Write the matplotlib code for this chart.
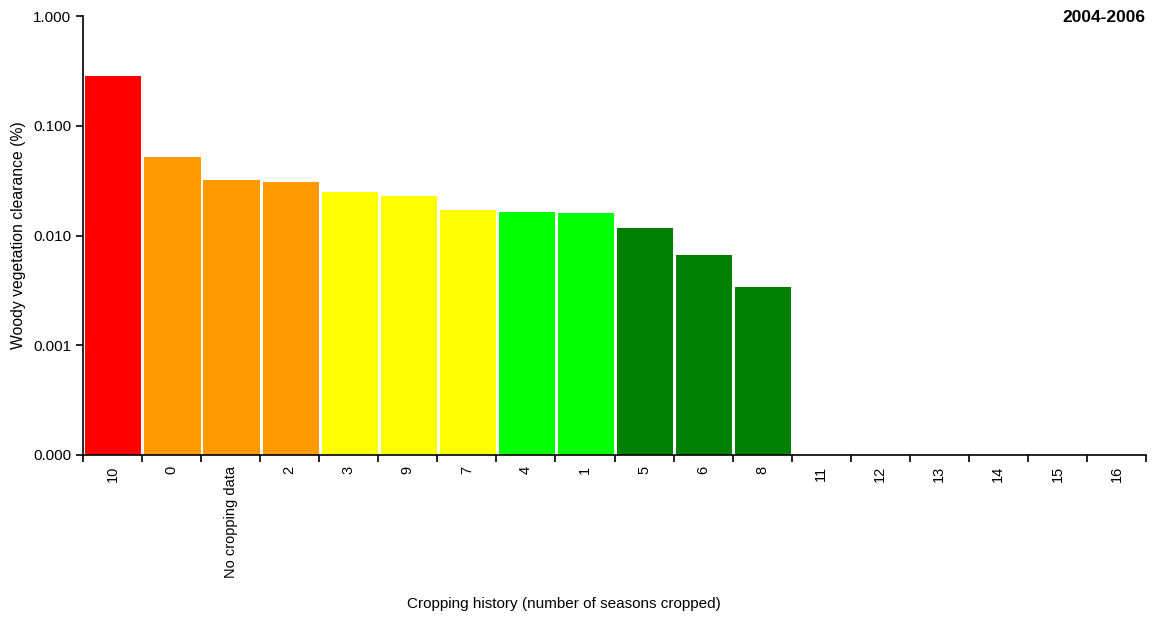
import matplotlib.pyplot as plt
import numpy as np

plt.rcParams['font.family'] = ['Liberation Sans', 'DejaVu Sans']

# cropping history categories, sorted by clearance
categories = ["10", "0", "No cropping data", "2", "3", "9", "7", "4", "1", "5", "6", "8",
              "11", "12", "13", "14", "15", "16"]
clearance = [0.284, 0.0519, 0.0321, 0.0307, 0.0249, 0.0229, 0.0171, 0.0164, 0.0160,
             0.0115, 0.0065, 0.00326, 0, 0, 0, 0, 0, 0]
colors = ["#FF0000", "#FF9900", "#FF9900", "#FF9900", "#FFFF00", "#FFFF00", "#FFFF00",
          "#00FF00", "#00FF00", "#008000", "#008000", "#008000",
          "white", "white", "white", "white", "white", "white"]


def main():
    fig = plt.figure(figsize=(11.53, 6.17), dpi=100)
    ax = fig.add_axes([83 / 1153, 1 - 455 / 617, (1146 - 83) / 1153, (455 - 16) / 617])

    x = np.arange(len(categories))
    heights = [v if v > 0 else np.nan for v in clearance]
    ax.bar(x + 0.015, heights, width=0.95, color=colors, bottom=1e-4, align="center")

    ax.set_yscale("log")
    ax.set_ylim(1e-4, 1)
    ax.set_xlim(-0.5, len(categories) - 0.5)
    ax.set_yticks([1e-4, 1e-3, 1e-2, 1e-1, 1])
    ax.set_yticklabels(["0.000", "0.001", "0.010", "0.100", "1.000"])
    ax.yaxis.set_minor_locator(plt.NullLocator())

    # tick marks sit on category boundaries, labels in the middle
    ax.set_xticks(x)
    ax.set_xticklabels(categories, rotation=90, fontsize=10.5)
    ax.tick_params(axis="x", which="major", length=0, pad=8)
    ax.set_xticks(np.arange(len(categories) + 1) - 0.5, minor=True)
    ax.tick_params(axis="x", which="minor", length=5, width=1.2, direction="out")
    ax.tick_params(axis="y", which="major", length=5, width=1.2, direction="out", labelsize=11)

    for side in ["top", "right"]:
        ax.spines[side].set_visible(False)
    for side in ["left", "bottom"]:
        ax.spines[side].set_linewidth(1.2)

    ax.set_ylabel("Woody vegetation clearance (%)", fontsize=11.3, labelpad=5)
    fig.text(564 / 1153, 1 - 604 / 617, "Cropping history (number of seasons cropped)",
             ha="center", va="center", fontsize=11)
    fig.text(1145 / 1153, 1 - 17 / 617, "2004-2006", ha="right", va="center",
             fontsize=12.5, fontweight="bold")

    fig.savefig("out.png", dpi=100)


if __name__ == '__main__':
    main()
